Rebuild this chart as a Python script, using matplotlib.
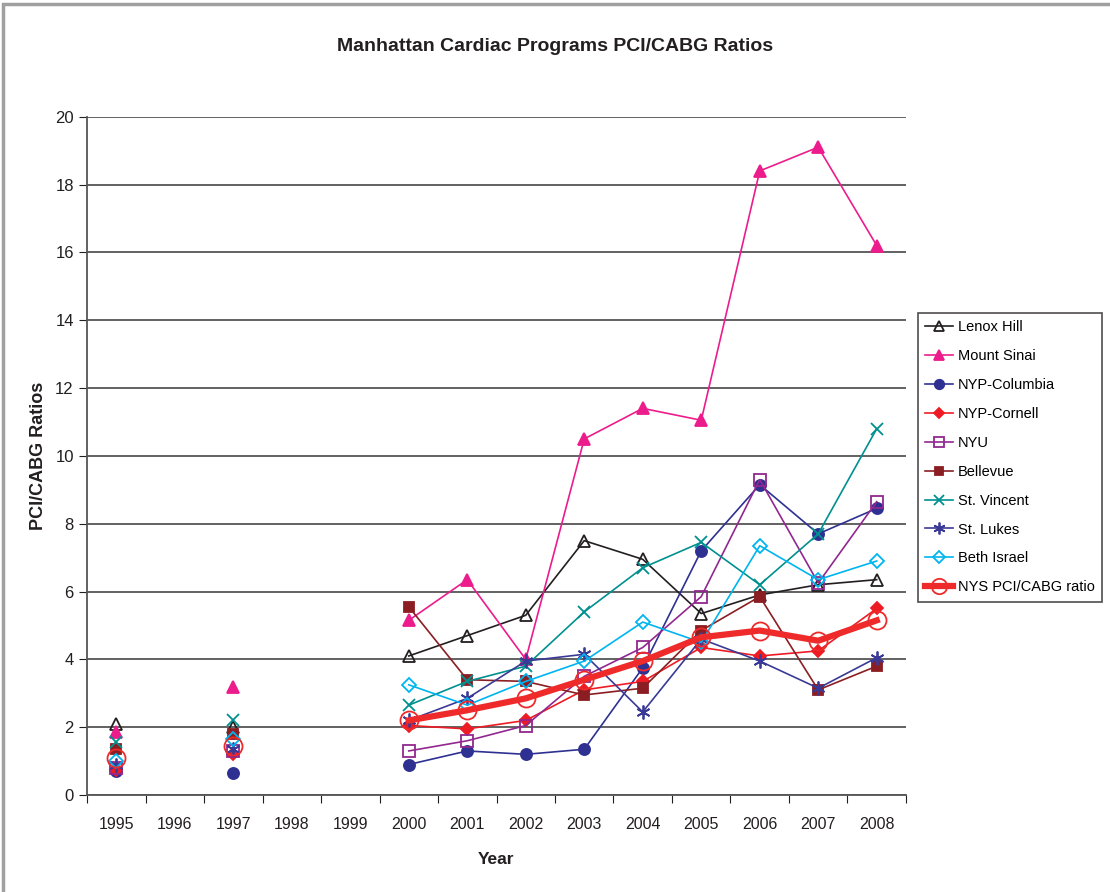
import numpy as np
import matplotlib.pyplot as plt
from matplotlib.patches import Rectangle

nan = np.nan
years = ["1995", "1996", "1997", "1998", "1999", "2000", "2001",
         "2002", "2003", "2004", "2005", "2006", "2007", "2008"]

lenox_hill = [2.1, nan, 2.0, nan, nan, 4.1, 4.7, 5.3, 7.5, 6.95, 5.35, 5.9, 6.2, 6.35]
mount_sinai = [1.85, nan, 3.2, nan, nan, 5.15, 6.35, 4.0, 10.5, 11.4, 11.05, 18.4, 19.1, 16.2]
nyp_columbia = [0.7, nan, 0.65, nan, nan, 0.9, 1.3, 1.2, 1.35, 3.75, 7.2, 9.15, 7.7, 8.45]
nyp_cornell = [0.75, nan, 1.2, nan, nan, 2.05, 1.95, 2.2, 3.1, 3.35, 4.35, 4.1, 4.25, 5.5]
nyu = [0.8, nan, 1.3, nan, nan, 1.3, 1.6, 2.05, 3.5, 4.35, 5.85, 9.3, 6.25, 8.65]
bellevue = [1.35, nan, 1.8, nan, nan, 5.55, 3.4, 3.35, 2.95, 3.15, 4.85, 5.85, 3.1, 3.8]
st_vincent = [1.55, nan, 2.2, nan, nan, 2.65, 3.35, 3.8, 5.4, 6.7, 7.45, 6.2, 7.7, 10.8]
st_lukes = [0.9, nan, 1.35, nan, nan, 2.2, 2.85, 3.95, 4.15, 2.45, 4.6, 3.95, 3.15, 4.05]
beth_israel = [1.0, nan, 1.65, nan, nan, 3.25, 2.65, 3.35, 3.95, 5.1, 4.5, 7.35, 6.35, 6.9]
nys_ratio = [1.1, nan, 1.45, nan, nan, 2.2, 2.5, 2.85, 3.4, 3.95, 4.65, 4.85, 4.55, 5.15]

plt.rcParams['font.family'] = ['Liberation Sans', 'DejaVu Sans']

fig = plt.figure(figsize=(11.1, 8.92), dpi=100)
ax = fig.add_axes([0.0784, 0.1087, 0.7378, 0.7605])

# outer frame of the chart area
fig.patches.append(Rectangle((0.003, -0.01), 1.2, 1.005, transform=fig.transFigure,
                             fill=False, edgecolor="#a0a0a0", linewidth=2.5))

x = np.arange(len(years))

series = [
    ("Lenox Hill", lenox_hill, "#231f20", "^", "none", 1.2, 8),
    ("Mount Sinai", mount_sinai, "#ec1c8c", "^", "#ec1c8c", 1.2, 8),
    ("NYP-Columbia", nyp_columbia, "#2e3192", "o", "#2e3192", 1.2, 8),
    ("NYP-Cornell", nyp_cornell, "#ed1c24", "D", "#ed1c24", 1.2, 6.5),
    ("NYU", nyu, "#92278f", "s", "none", 1.2, 8),
    ("Bellevue", bellevue, "#8b1e22", "s", "#8b1e22", 1.2, 7),
    ("St. Vincent", st_vincent, "#00908f", "x", "none", 1.2, 9),
    ("St. Lukes", st_lukes, "#3a3a96", (6, 2, 0), "none", 1.2, 10),
    ("Beth Israel", beth_israel, "#00b5ef", "D", "none", 1.2, 7),
]

for name, vals, col, mk, fc, lw, ms in series:
    ax.plot(x, vals, color=col, marker=mk, markerfacecolor=fc, markeredgecolor=col,
            markeredgewidth=1.3, markersize=ms, linewidth=lw, label=name)

ax.plot(x, nys_ratio, color="#ee2a2a", marker="o", markerfacecolor="none",
        markeredgecolor="#ee2a2a", markeredgewidth=1.3, markersize=13, linewidth=4.5,
        label="NYS PCI/CABG ratio")

ax.set_xlim(-0.5, len(years) - 0.5)
ax.set_ylim(0, 20)
ax.set_yticks(np.arange(0, 21, 2))
ax.set_yticklabels([str(v) for v in range(0, 21, 2)], fontsize=12, color="#231f20")
ax.yaxis.grid(True, color="#555555", linewidth=1.3)
ax.set_axisbelow(True)

# year labels centred on categories, tick marks on category boundaries
ax.set_xticks(np.arange(-0.5, len(years), 1.0))
ax.set_xticklabels([])
ax.set_xticks(x, minor=True)
ax.set_xticklabels(years, minor=True, fontsize=11.5, color="#231f20")
ax.tick_params(axis="x", which="minor", length=0, pad=16)
ax.tick_params(axis="x", which="major", length=6, color="#231f20", direction="out")
ax.tick_params(axis="y", length=6, color="#231f20", direction="out")

for s in ["top", "right"]:
    ax.spines[s].set_visible(False)
ax.spines["left"].set_color("#555555")
ax.spines["bottom"].set_color("#555555")
ax.spines["left"].set_linewidth(1.3)
ax.spines["bottom"].set_linewidth(1.3)

ax.set_xlabel("Year", fontsize=12.5, fontweight="bold", labelpad=14, color="#231f20")
ax.set_ylabel("PCI/CABG Ratios", fontsize=13, fontweight="bold", labelpad=6, color="#231f20")
fig.text(0.5, 0.943, "Manhattan Cardiac Programs PCI/CABG Ratios", ha="center",
         fontsize=14, fontweight="bold", color="#231f20")

leg = ax.legend(loc="upper left", bbox_to_anchor=(0.827, 0.649), bbox_transform=fig.transFigure,
                fontsize=10.5, frameon=True, fancybox=False, edgecolor="#231f20",
                borderpad=0.5, borderaxespad=0, labelspacing=1.02, handlelength=1.9,
                handletextpad=0.35, markerscale=0.85)
leg.get_frame().set_linewidth(1.2)

fig.savefig("out.png", dpi=100)
